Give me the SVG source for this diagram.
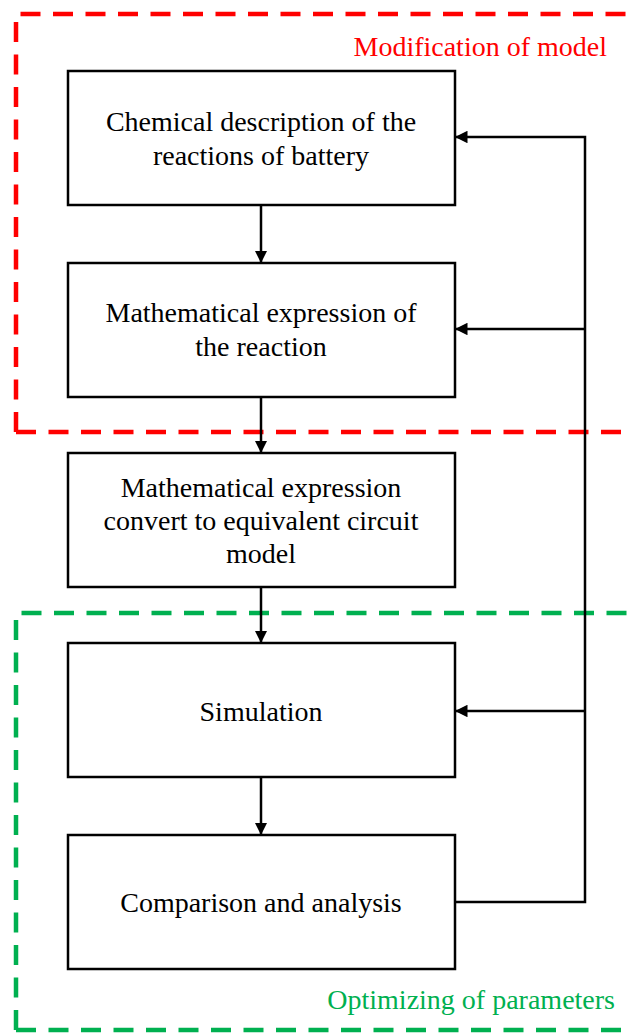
<svg xmlns="http://www.w3.org/2000/svg" width="631" height="1034" viewBox="0 0 631 1034">
<defs>
<marker id="arr" viewBox="0 0 10 10" refX="10" refY="5" markerWidth="5" markerHeight="5" orient="auto" markerUnits="strokeWidth">
<path d="M0,0 L10,5 L0,10 z" fill="#000"/>
</marker>
<style>
.box{fill:#fff;stroke:#000;stroke-width:2.5}
.t{font-family:"Liberation Serif","Times New Roman",serif;font-size:28px;fill:#000;text-anchor:middle}
.c{fill:none;stroke:#000;stroke-width:2.5}
.red{fill:none;stroke:#FF0000;stroke-width:4.5;stroke-dasharray:20 12.5}
.green{fill:none;stroke:#00B050;stroke-width:4.5;stroke-dasharray:20 12.5}
.lbl{font-family:"Liberation Serif","Times New Roman",serif;font-size:28px;text-anchor:end}
</style>
</defs>
<rect width="631" height="1034" fill="#fff"/>
<g id="group-modification">
<path class="red" d="M16,432 L16,14 L660,14 M16,432 L660,432"/>
<text class="lbl" x="607" y="56" fill="#FF0000">Modification of model</text>
</g>
<g id="group-optimizing">
<path class="green" d="M16,1030 L16,613 L660,613 M16,1030 L660,1030"/>
<text class="lbl" x="615" y="1009" fill="#00B050">Optimizing of parameters</text>
</g>
<g id="connectors">
<line class="c" x1="261" y1="205" x2="261" y2="263" marker-end="url(#arr)"/>
<line class="c" x1="261" y1="397" x2="261" y2="453" marker-end="url(#arr)"/>
<line class="c" x1="261" y1="587" x2="261" y2="643" marker-end="url(#arr)"/>
<line class="c" x1="261" y1="777" x2="261" y2="835" marker-end="url(#arr)"/>
<polyline class="c" points="455,902 585,902 585,137 455,137" marker-end="url(#arr)"/>
<line class="c" x1="585" y1="329" x2="455" y2="329" marker-end="url(#arr)"/>
<line class="c" x1="585" y1="711" x2="455" y2="711" marker-end="url(#arr)"/>
</g>
<g id="node-chemical">
<rect class="box" x="68" y="71" width="387" height="134"/>
<text class="t" x="261" y="131">Chemical description of the</text>
<text class="t" x="261" y="165">reactions of battery</text>
</g>
<g id="node-math">
<rect class="box" x="68" y="263" width="387" height="134"/>
<text class="t" x="261" y="322">Mathematical expression of</text>
<text class="t" x="261" y="356">the reaction</text>
</g>
<g id="node-convert">
<rect class="box" x="68" y="453" width="387" height="134"/>
<text class="t" x="261" y="497">Mathematical expression</text>
<text class="t" x="261" y="530">convert to equivalent circuit</text>
<text class="t" x="261" y="563">model</text>
</g>
<g id="node-simulation">
<rect class="box" x="68" y="643" width="387" height="134"/>
<text class="t" x="261" y="721">Simulation</text>
</g>
<g id="node-comparison">
<rect class="box" x="68" y="835" width="387" height="134"/>
<text class="t" x="261" y="912">Comparison and analysis</text>
</g>
</svg>
